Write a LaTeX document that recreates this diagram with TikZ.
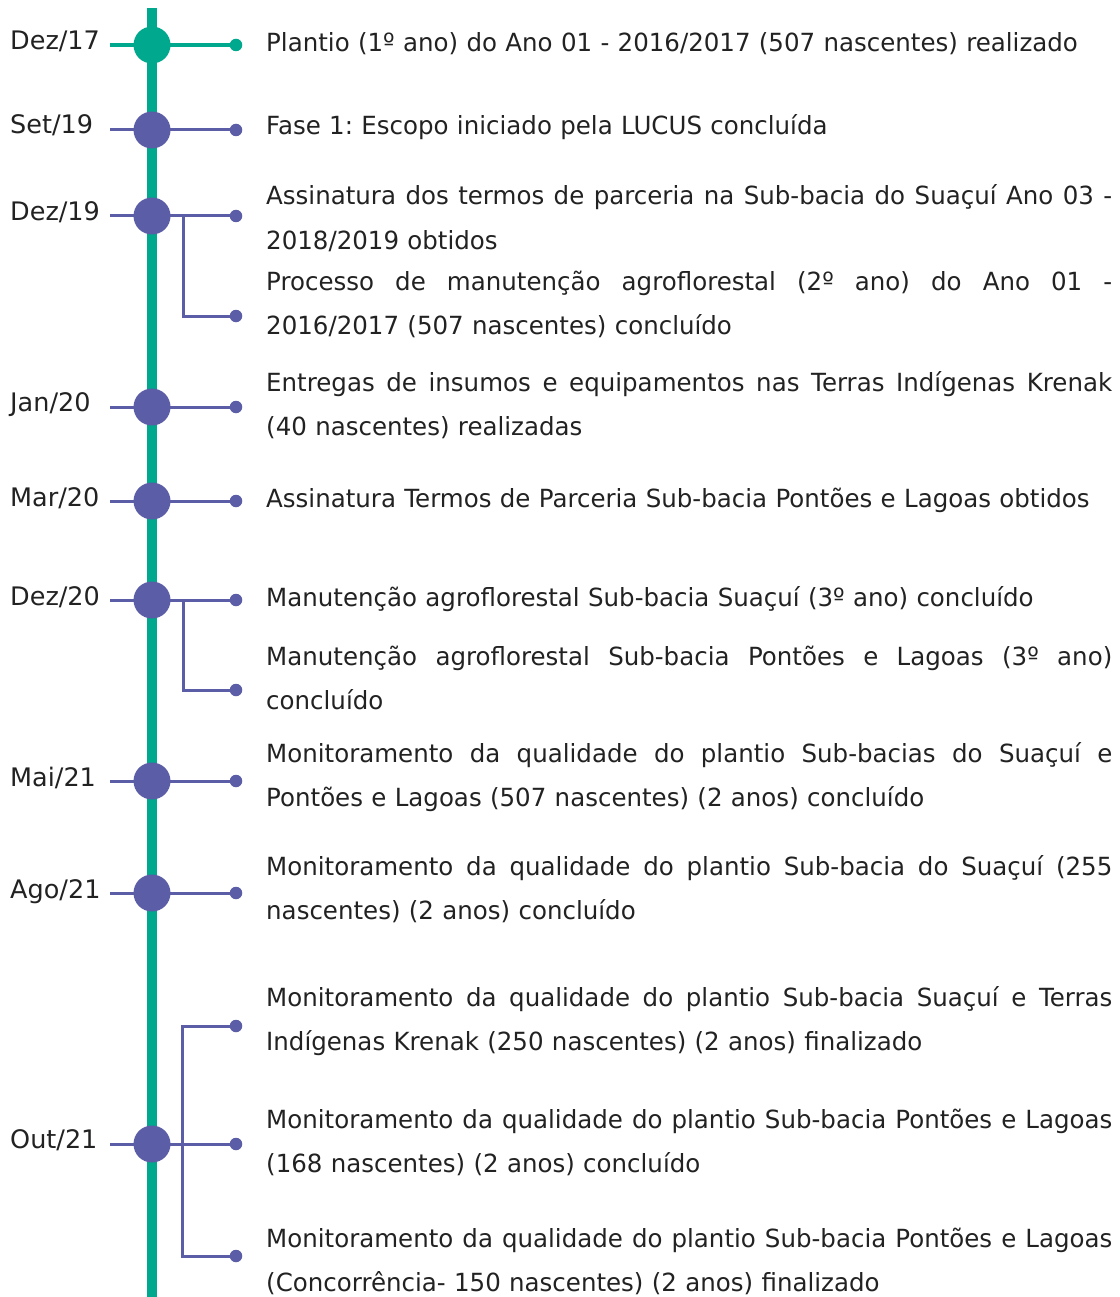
\documentclass[tikz,border=0pt]{standalone}
\usepackage{fontspec}
\setmainfont{DejaVu Sans}
\newfontfamily\txtfont[FakeStretch=0.98]{DejaVu Sans}
\usetikzlibrary{backgrounds}
\definecolor{tgreen}{HTML}{00A88E}
\definecolor{tpurple}{HTML}{5B5EA6}
\definecolor{ink}{HTML}{222222}
\newcommand{\jline}[1]{\hbox to 846pt{\spaceskip=\fontdimen2\font plus 1fil\relax #1}}
\begin{document}
\begin{tikzpicture}[x=1pt,y=-1pt,
  big/.style={circle,fill=#1,minimum size=37pt,inner sep=0pt},
  dot/.style={circle,fill=#1,minimum size=12.5pt,inner sep=0pt},
  conn/.style={draw=#1,line width=3pt},
  date/.style={anchor=base west,inner sep=0pt,font=\fontsize{25.5}{26}\selectfont,text=ink},
  desc/.style={anchor=base west,inner sep=0pt,text width=846pt,font=\txtfont\fontsize{25}{44}\selectfont\frenchspacing,text=ink}]
\useasboundingbox (0,0) rectangle (1119,1297);
% coordinates
\coordinate (top) at (152,8);
\coordinate (bot) at (152,1297);
\foreach \i/\y in {1/45,2/130,3/216,4/407,5/501,6/600,7/781,8/893,9/1144}{
  \coordinate (s\i) at (110,\y);
}
% event circles
\node[big=tgreen] (c1) at (152,45) {};
\node[big=tpurple] (c2) at (152,130) {};
\node[big=tpurple] (c3) at (152,216) {};
\node[big=tpurple] (c4) at (152,407) {};
\node[big=tpurple] (c5) at (152,501) {};
\node[big=tpurple] (c6) at (152,600) {};
\node[big=tpurple] (c7) at (152,781) {};
\node[big=tpurple] (c8) at (152,893) {};
\node[big=tpurple] (c9) at (152,1144) {};
% end dots
\node[dot=tgreen] (d1) at (236,45) {};
\node[dot=tpurple] (d2) at (236,130) {};
\node[dot=tpurple] (d3) at (236,216) {};
\node[dot=tpurple] (d3b) at (236,316) {};
\node[dot=tpurple] (d4) at (236,407) {};
\node[dot=tpurple] (d5) at (236,501) {};
\node[dot=tpurple] (d6) at (236,600) {};
\node[dot=tpurple] (d6b) at (236,690) {};
\node[dot=tpurple] (d7) at (236,781) {};
\node[dot=tpurple] (d8) at (236,893) {};
\node[dot=tpurple] (d9a) at (236,1026) {};
\node[dot=tpurple] (d9) at (236,1144) {};
\node[dot=tpurple] (d9c) at (236,1256) {};
\coordinate (b3) at (183,216);
\coordinate (b6) at (183,600);
\coordinate (b9c) at (182,1256);
% connectors
\begin{scope}[on background layer]
\draw[tgreen,line width=10pt] (top) -- (bot);
\draw[conn=tgreen,line width=3.5pt] (s1) -- (c1.center) -- (d1.center);
\foreach \i in {2,...,9}{
  \draw[conn=tpurple] (s\i) -- (c\i.center) -- (d\i.center);
}
\draw[conn=tpurple] (b3) |- (d3b.center);
\draw[conn=tpurple] (b6) |- (d6b.center);
\draw[conn=tpurple] (d9a.center) -| (b9c) -- (d9c.center);
\end{scope}
% date labels
\node[date] (l1) at (10,50) {Dez/17};
\node[date] (l2) at (10,134) {Set/19};
\node[date] (l3) at (10,221) {Dez/19};
\node[date] (l4) at (10,411) {Jan/20};
\node[date] (l5) at (10,506) {Mar/20};
\node[date] (l6) at (10,605) {Dez/20};
\node[date] (l7) at (10,786) {Mai/21};
\node[date] (l8) at (10,898) {Ago/21};
\node[date] (l9) at (10,1148) {Out/21};
% descriptions
\node[desc] (t1) at (266,52) {Plantio (1º ano) do Ano 01 - 2016/2017 (507 nascentes) realizado};
\node[desc] (t2) at (266,135) {Fase 1: Escopo iniciado pela LUCUS concluída};
\node[desc] (t3) at (266,205) {\jline{Assinatura dos termos de parceria na Sub-bacia do Suaçuí Ano 03 -}\\2018/2019 obtidos};
\node[desc] (t3b) at (266,290) {\jline{Processo de manutenção agroflorestal (2º ano) do Ano 01 -}\\2016/2017 (507 nascentes) concluído};
\node[desc] (t4) at (266,391) {\jline{Entregas de insumos e equipamentos nas Terras Indígenas Krenak}\\(40 nascentes) realizadas};
\node[desc] (t5) at (266,507) {Assinatura Termos de Parceria Sub-bacia Pontões e Lagoas obtidos};
\node[desc] (t6) at (266,606) {Manutenção agroflorestal Sub-bacia Suaçuí (3º ano) concluído};
\node[desc] (t6b) at (266,665) {\jline{Manutenção agroflorestal Sub-bacia Pontões e Lagoas (3º ano)}\\concluído};
\node[desc] (t7) at (266,762) {\jline{Monitoramento da qualidade do plantio Sub-bacias do Suaçuí e}\\Pontões e Lagoas (507 nascentes) (2 anos) concluído};
\node[desc] (t8) at (266,875) {\jline{Monitoramento da qualidade do plantio Sub-bacia do Suaçuí (255}\\nascentes) (2 anos) concluído};
\node[desc] (t9a) at (266,1006) {\jline{Monitoramento da qualidade do plantio Sub-bacia Suaçuí e Terras}\\Indígenas Krenak (250 nascentes) (2 anos) finalizado};
\node[desc] (t9) at (266,1128) {\jline{Monitoramento da qualidade do plantio Sub-bacia Pontões e Lagoas}\\(168 nascentes) (2 anos) concluído};
\node[desc] (t9c) at (266,1247) {\jline{Monitoramento da qualidade do plantio Sub-bacia Pontões e Lagoas}\\(Concorrência- 150 nascentes) (2 anos) finalizado};
\end{tikzpicture}
\end{document}
